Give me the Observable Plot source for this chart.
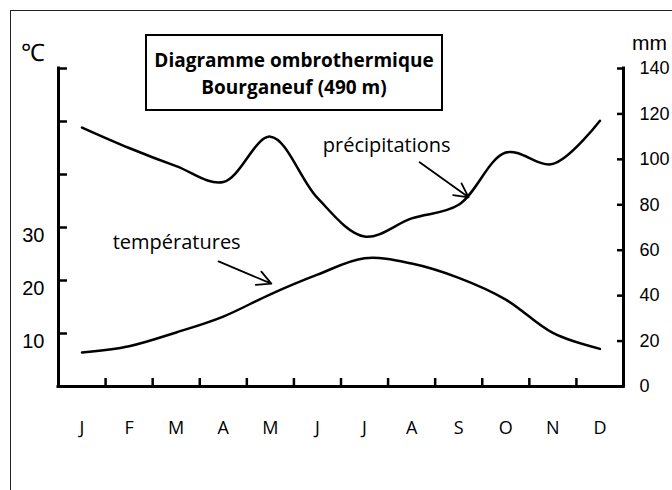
<!DOCTYPE html>
<html><head><meta charset="utf-8">
<script src="https://cdn.jsdelivr.net/npm/d3@7"></script>
<script src="https://cdn.jsdelivr.net/npm/@observablehq/plot@0.6"></script>
<style>
body{margin:0;background:#fff;}
#wrap{position:relative;width:672px;height:490px;overflow:hidden;background:#fff;}
#frame{position:absolute;left:10px;top:10px;width:700px;height:520px;border-left:1.5px solid #222;border-top:1.5px solid #222;}
#chart{position:absolute;left:0;top:0;}
#title{position:absolute;left:145px;top:34px;width:298px;height:77px;box-sizing:border-box;border:2px solid #000;background:#fff;
  font-family:"Comic Sans MS","Open Sans",sans-serif;font-weight:bold;font-size:19px;text-align:center;line-height:27px;padding-top:11px;color:#000;white-space:nowrap;}
</style></head>
<body>
<div id="wrap"><div id="frame"></div><div id="chart"></div>
<div id="title">Diagramme ombrothermique<br>Bourganeuf (490 m)</div></div>
<script>
const months = ["J","F","M","A","M","J","J","A","S","O","N","D"];
const temperature = [6.4, 7.6, 10.2, 13.2, 17.4, 21.1, 24.2, 23.2, 20.5, 16.4, 10.1, 7.1];
const precipitation = [114, 105, 97, 90, 110, 83, 66, 74, 80, 103, 98, 117];
const tempTicks = [10, 20, 30, 40, 50, 60];
const tempLabels = [10, 20, 30];
const precipTicks = [0, 20, 40, 60, 80, 100, 120, 140];
const annotations = [
  {label: "précipitations", x: 6.97, y: 45.5},
  {label: "températures", x: 2.51, y: 27.2}
];
const arrows = [
  {x1: 7.67, y1: 42.3, x2: 8.71, y2: 35.7},
  {x1: 3.40, y1: 23.6, x2: 4.52, y2: 19.4}
];

const mm2c = (p) => p * 60 / 140;
const data = months.map((m, i) => ({m, x: i + 0.5, t: temperature[i], p: precipitation[i]}));
const comic = '"Comic Sans MS","Open Sans",sans-serif';
const arial = '"Liberation Sans",Arial,sans-serif';

const chart = Plot.plot({
  width: 672, height: 490,
  marginLeft: 58, marginRight: 49, marginTop: 68, marginBottom: 104,
  x: {domain: [0, 12], axis: null},
  y: {domain: [0, 60], axis: null},
  style: {background: "transparent", color: "#000", fontFamily: arial, fontSize: "20px"},
  marks: [
    Plot.ruleX([0, 12], {y1: 0, y2: 60, strokeWidth: 3, strokeLinecap: "square"}),
    Plot.ruleY([0], {x1: 0, x2: 12, strokeWidth: 3, strokeLinecap: "square"}),
    Plot.axisY(tempTicks, {anchor: "left", tickSize: 9, dx: 9, fill: "none", strokeWidth: 2.5, label: null}),
    Plot.axisY(tempLabels, {anchor: "left", tickSize: 0, tickPadding: 14, dy: 8, fontSize: 20, fontFamily: arial, label: null}),
    Plot.axisY(precipTicks.map(mm2c), {anchor: "right", tickSize: 7, dx: -7, fill: "none", strokeWidth: 2.5, label: null}),
    Plot.axisY(precipTicks.map(mm2c), {anchor: "right", tickSize: 0, tickPadding: 16, tickFormat: (d, i) => precipTicks[i], fontSize: 18, fontFamily: arial, label: null}),
    Plot.axisX(d3.range(1, 12), {anchor: "bottom", tickSize: 8, dy: -8, fill: "none", strokeWidth: 2.5, label: null}),
    Plot.axisX(data.map(d => d.x), {anchor: "bottom", tickSize: 0, tickPadding: 35, tickFormat: (d, i) => months[i], fontSize: 18, fontFamily: comic, label: null}),
    Plot.text(["℃"], {frameAnchor: "top-left", dx: -26, dy: -25, fontSize: 24, fontFamily: arial, textAnchor: "middle"}),
    Plot.text(["mm"], {frameAnchor: "top-right", dx: 26, dy: -33, fontSize: 21, fontFamily: arial, textAnchor: "middle"}),
    Plot.line(data, {x: "x", y: d => mm2c(d.p), curve: "catmull-rom", strokeWidth: 2.5}),
    Plot.line(data, {x: "x", y: "t", curve: "catmull-rom", strokeWidth: 2.5}),
    Plot.text(annotations, {x: "x", y: "y", text: "label", fontSize: 20, fontFamily: comic}),
    Plot.arrow(arrows, {x1: "x1", y1: "y1", x2: "x2", y2: "y2", strokeWidth: 1.8, headLength: 13, headAngle: 55})
  ]
});
document.getElementById("chart").appendChild(chart);
</script>
</body></html>
